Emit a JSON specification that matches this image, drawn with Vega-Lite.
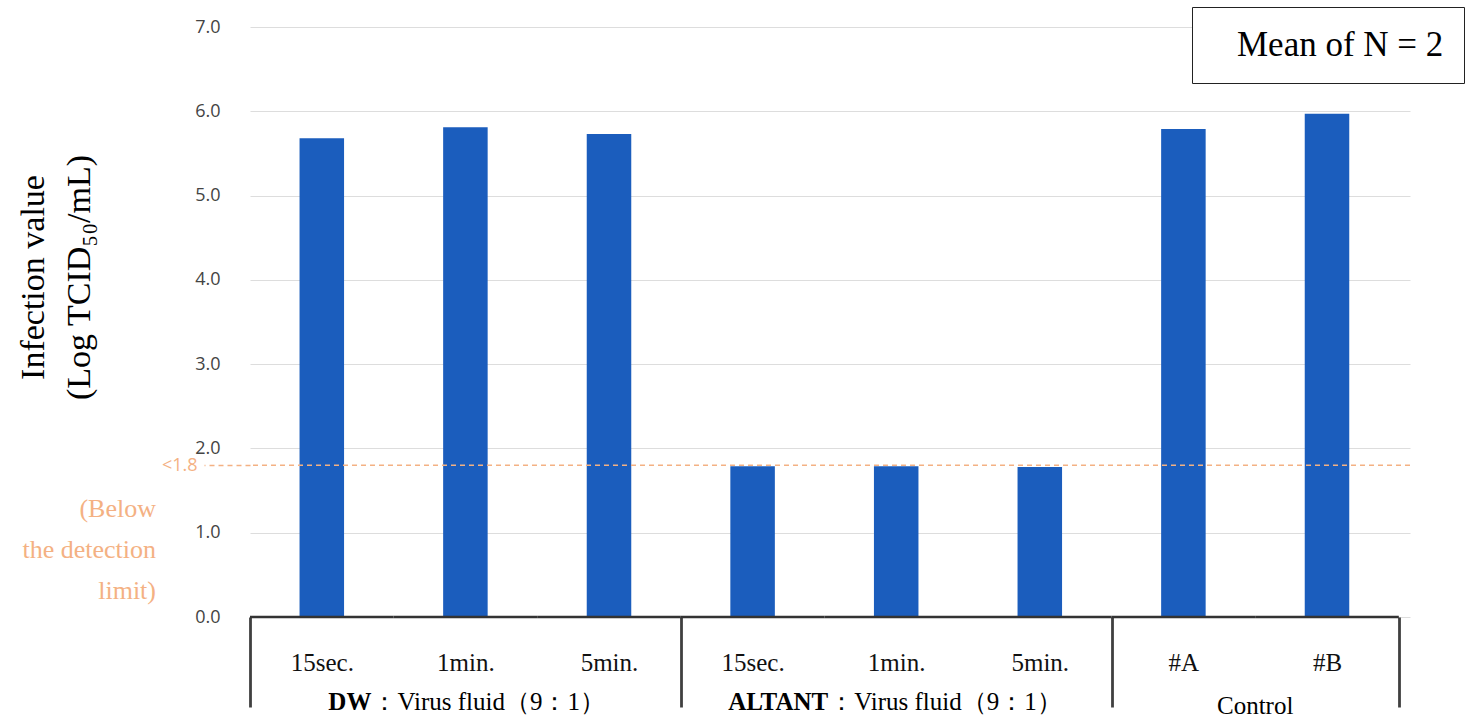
{
  "$schema": "https://vega.github.io/schema/vega-lite/v6.json",
  "width": 1160,
  "height": 590,
  "autosize": {"type": "none"},
  "padding": {"left": 250, "top": 27, "right": 66, "bottom": 102},
  "background": "white",
  "config": {"view": {"stroke": null}},
  "datasets": {
    "bars": [
      {"id": "DW|15sec.", "group": "DW", "time": "15sec.", "value": 5.68},
      {"id": "DW|1min.", "group": "DW", "time": "1min.", "value": 5.81},
      {"id": "DW|5min.", "group": "DW", "time": "5min.", "value": 5.73},
      {"id": "ALTANT|15sec.", "group": "ALTANT", "time": "15sec.", "value": 1.79},
      {"id": "ALTANT|1min.", "group": "ALTANT", "time": "1min.", "value": 1.79},
      {"id": "ALTANT|5min.", "group": "ALTANT", "time": "5min.", "value": 1.78},
      {"id": "Control|#A", "group": "Control", "time": "#A", "value": 5.79},
      {"id": "Control|#B", "group": "Control", "time": "#B", "value": 5.97}
    ]
  },
  "layer": [
    {
      "data": {"name": "bars"},
      "mark": {"type": "bar", "width": {"band": 0.31}},
      "encoding": {
        "x": {
          "field": "id",
          "type": "nominal",
          "sort": null,
          "scale": {
            "type": "band",
            "domain": ["DW|15sec.", "DW|1min.", "DW|5min.", "ALTANT|15sec.", "ALTANT|1min.", "ALTANT|5min.", "Control|#A", "Control|#B"],
            "paddingInner": 0,
            "paddingOuter": 0.039,
            "align": 0
          },
          "axis": {
            "title": null,
            "domain": false,
            "grid": false,
            "tickBand": "extent",
            "tickSize": 90,
            "tickWidth": 2.8,
            "tickColor": {"condition": {"test": "datum.extra || datum.value == 'DW|5min.' || datum.value == 'ALTANT|5min.' || datum.value == 'Control|#B'", "value": "#404040"}, "value": "transparent"},
            "labelExpr": "split(datum.value, '|')[1]",
            "labelFont": "Liberation Serif",
            "labelFontSize": 25,
            "labelColor": "#111111",
            "labelPadding": -57,
            "labelAngle": 0
          }
        },
        "y": {
          "field": "value",
          "type": "quantitative",
          "scale": {"domain": [0, 7], "nice": false},
          "axis": {
            "title": ["Infection value", "(Log TCID₅₀/mL)"],
            "titleFont": "Liberation Serif",
            "titleFontSize": 34,
            "titleFontWeight": "normal",
            "titleColor": "black",
            "titleLineHeight": 46,
            "titleX": -217,
            "titleY": 250,
            "titleAngle": -90,
            "titleAlign": "center",
            "titleBaseline": "middle",
            "values": [0, 1, 1.8, 2, 3, 4, 5, 6, 7],
            "labelExpr": "datum.value == 1.8 ? '<1.8' : format(datum.value, '.1f')",
            "labelFont": "Open Sans",
            "labelFontSize": 18,
            "labelColor": {"condition": {"test": "datum.value == 1.8", "value": "#f4b183"}, "value": "#444444"},
            "labelPadding": {"condition": {"test": "datum.value == 1.8", "value": 7}, "value": -16},
            "labelFlush": false,
            "labelOverlap": false,
            "domain": false,
            "tickSize": 46,
            "tickWidth": 1.5,
            "tickDash": [5, 4],
            "tickColor": {"condition": {"test": "datum.value == 1.8", "value": "#f4b183"}, "value": "transparent"},
            "gridColor": {"condition": {"test": "datum.value == 1.8", "value": "transparent"}, "value": "#dddddd"},
            "gridWidth": 1
          }
        },
        "color": {
          "datum": "Mean of N = 2",
          "scale": {"range": ["#1b5dbd"]},
          "legend": {
            "orient": "none",
            "legendX": 942,
            "legendY": -20,
            "title": null,
            "strokeColor": "#222222",
            "fillColor": "white",
            "padding": 20,
            "symbolSize": 0,
            "symbolOpacity": 0,
            "symbolStrokeWidth": 0,
            "labelFont": "Liberation Serif",
            "labelFontSize": 35,
            "labelColor": "black",
            "labelOffset": -10,
            "labelLimit": 0
          }
        }
      }
    },
    {
      "data": {"name": "bars"},
      "mark": {"type": "bar", "width": {"band": 1}, "fill": "transparent", "stroke": "#333333", "strokeWidth": 2.5},
      "encoding": {
        "x": {"field": "id", "type": "nominal"},
        "y": {"datum": 0},
        "y2": {"datum": 0}
      }
    },
    {
      "data": {"values": [{"limit": 1.8}]},
      "mark": {"type": "rule", "color": "#f4b183", "strokeDash": [5, 4], "strokeWidth": 1.5},
      "encoding": {
        "y": {"field": "limit", "type": "quantitative"}
      }
    },
    {
      "data": {"values": [{"label": "DW", "anchor": "DW|1min."}]},
      "mark": {"type": "text", "font": "Liberation Serif", "fontSize": 25, "fontWeight": "bold", "align": "right", "baseline": "middle", "dx": -94, "dy": 85, "color": "black"},
      "encoding": {
        "x": {"field": "anchor", "type": "nominal"},
        "y": {"datum": 0},
        "text": {"field": "label"}
      }
    },
    {
      "data": {"values": [{"label": "：Virus fluid（9：1）", "anchor": "DW|1min."}]},
      "mark": {"type": "text", "font": "Liberation Serif", "fontSize": 25, "align": "left", "baseline": "middle", "dx": -93, "dy": 85, "color": "black"},
      "encoding": {
        "x": {"field": "anchor", "type": "nominal"},
        "y": {"datum": 0},
        "text": {"field": "label"}
      }
    },
    {
      "data": {"values": [{"label": "ALTANT", "anchor": "ALTANT|1min."}]},
      "mark": {"type": "text", "font": "Liberation Serif", "fontSize": 25, "fontWeight": "bold", "align": "right", "baseline": "middle", "dx": -68, "dy": 85, "color": "black"},
      "encoding": {
        "x": {"field": "anchor", "type": "nominal"},
        "y": {"datum": 0},
        "text": {"field": "label"}
      }
    },
    {
      "data": {"values": [{"label": "：Virus fluid（9：1）", "anchor": "ALTANT|1min."}]},
      "mark": {"type": "text", "font": "Liberation Serif", "fontSize": 25, "align": "left", "baseline": "middle", "dx": -67, "dy": 85, "color": "black"},
      "encoding": {
        "x": {"field": "anchor", "type": "nominal"},
        "y": {"datum": 0},
        "text": {"field": "label"}
      }
    },
    {
      "data": {"values": [{"label": "Control", "anchor": "Control|#A"}]},
      "mark": {"type": "text", "font": "Liberation Serif", "fontSize": 25, "align": "center", "baseline": "middle", "dy": 89, "color": "black"},
      "encoding": {
        "x": {"field": "anchor", "type": "nominal", "bandPosition": 1},
        "y": {"datum": 0},
        "text": {"field": "label"}
      }
    },
    {
      "data": {"values": [{"anchor": "DW|15sec."}]},
      "mark": {"type": "text", "font": "Liberation Serif", "fontSize": 26, "align": "right", "baseline": "middle", "lineHeight": 41, "dx": -94, "color": "#f4b183"},
      "encoding": {
        "x": {"field": "anchor", "type": "nominal", "bandPosition": 0},
        "y": {"datum": 1.28},
        "text": {"value": ["(Below", "the detection", "limit)"]}
      }
    }
  ]
}
